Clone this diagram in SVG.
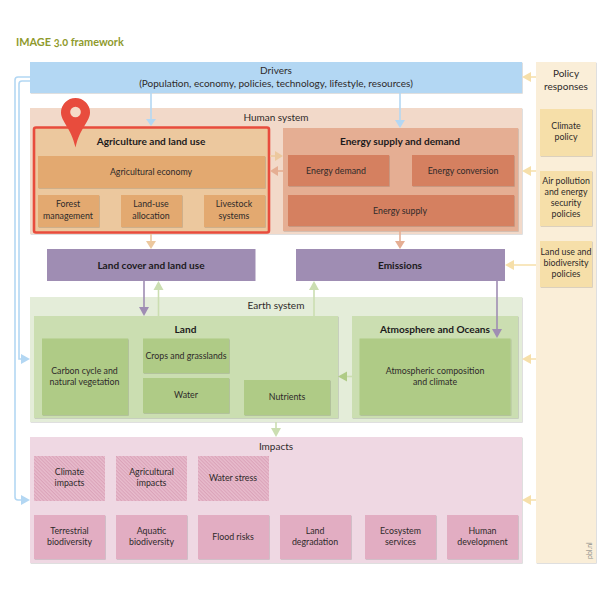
<svg xmlns="http://www.w3.org/2000/svg" width="611" height="599" viewBox="0 0 611 599">
<style>
text{font-family:"Lato","Open Sans","Liberation Sans",sans-serif;font-size:8.8px;fill:#2e2a2a;text-anchor:middle}
.h{font-size:10px}
.b{font-size:10.1px;font-weight:700;fill:#1c1a1c}
.t{font-size:10.9px;font-weight:700;fill:#8f9a2d;text-anchor:start;font-feature-settings:"onum"}
.s{font-size:7px;fill:#8f8f8a}
.d{filter:url(#sh)}
.ln{fill:none;stroke-width:1.6}
.lb{stroke:#b3d7f3}.lo{stroke:#ecc89e}.lr{stroke:#e5ae93}.lp{stroke:#9f8db3}.lg{stroke:#cbdeb1}.ly{stroke:#f6dfa9}
.hb{fill:#b3d7f3}.ho{fill:#ecc89e}.hr{fill:#e5ae93}.hp{fill:#9f8db3}.hg{fill:#cbdeb1}.hy{fill:#f6dfa9}.hag{fill:#afcb86}
</style>
<defs>
<filter id="sh" x="-5%" y="-5%" width="110%" height="110%"><feDropShadow dx="0.7" dy="0.7" stdDeviation="0.3" flood-color="#000" flood-opacity="0.18"/></filter>
<pattern id="hatch" width="2.500" height="2.500" patternUnits="userSpaceOnUse" patternTransform="rotate(45)">
<rect width="2.500" height="2.500" fill="#e8bccd"/><rect width="2.500" height="1.100" fill="#dba3b9"/>
</pattern>
</defs>
<text class="t" x="16" y="46">IMAGE 3.0 framework</text>

<g id="policy-responses"><rect class="d" x="536" y="62" width="60" height="501" fill="#faeed8"/><text class="h" x="566" y="77">Policy</text><text class="h" x="566" y="90">responses</text><text class="s" transform="translate(592,559) rotate(-90)" style="text-anchor:start">pbl.nl</text></g>
<g id="climate-policy"><rect class="d" x="540" y="109" width="52" height="47" fill="#f6dfa9"/><text x="566" y="129">Climate</text><text x="566" y="140">policy</text></g>
<g id="air-pollution-policies"><rect class="d" x="540" y="171" width="52" height="55" fill="#f6dfa9"/><text x="566" y="184">Air pollution</text><text x="566" y="195">and energy</text><text x="566" y="206">security</text><text x="566" y="217">policies</text></g>
<g id="land-use-policies"><rect class="d" x="540" y="241" width="52" height="46" fill="#f6dfa9"/><text x="566" y="255">Land use and</text><text x="566" y="266">biodiversity</text><text x="566" y="277">policies</text></g>

<g id="drivers"><rect class="d" x="30" y="62" width="492" height="31" fill="#b3d7f3"/><text class="h" x="276" y="74">Drivers</text><text class="h" x="276" y="86.500">(Population, economy, policies, technology, lifestyle, resources)</text></g>

<g id="human-system"><rect class="d" x="30" y="108" width="492" height="126" fill="#f2d9c9"/><text class="h" x="276" y="120.500">Human system</text></g>
<g id="energy-supply-demand"><rect class="d" x="283" y="128" width="235" height="103" fill="#e5ae93"/><text class="b" x="400" y="145">Energy supply and demand</text></g>
<g id="energy-demand"><rect class="d" x="288" y="155" width="101" height="31" fill="#d58060"/><text x="336" y="173.500">Energy demand</text></g>
<g id="energy-conversion"><rect class="d" x="412" y="155" width="102" height="31" fill="#d58060"/><text x="463" y="173.500">Energy conversion</text></g>
<g id="energy-supply"><rect class="d" x="288" y="195" width="226" height="31" fill="#d58060"/><text x="400" y="213.500">Energy supply</text></g>

<g id="agriculture-land-use"><rect x="34" y="127.500" width="235" height="105" rx="2" fill="#ecc89e" stroke="#e84c3d" stroke-width="2.600"/><text class="b" x="151" y="145">Agriculture and land use</text></g>
<g id="agricultural-economy"><rect class="d" x="38" y="156" width="227" height="32" fill="#e3a96f"/><text x="151" y="174.500">Agricultural economy</text></g>
<g id="forest-management"><rect class="d" x="38" y="195" width="61" height="32" fill="#e3a96f"/><text x="68" y="207">Forest</text><text x="68" y="218.500">management</text></g>
<g id="land-use-allocation"><rect class="d" x="121" y="195" width="61" height="32" fill="#e3a96f"/><text x="151" y="207">Land-use</text><text x="151" y="218.500">allocation</text></g>
<g id="livestock-systems"><rect class="d" x="204" y="195" width="61" height="32" fill="#e3a96f"/><text x="234" y="207">Livestock</text><text x="234" y="218.500">systems</text></g>
<g id="location-pin"><path d="M75.500 98a14.500 14.500 0 0 1 14.500 14.500c0 9-10 15-14.500 35c-4.500-20-14.500-26-14.500-35a14.500 14.500 0 0 1 14.500-14.500z" fill="#e84c3d"/><circle cx="75.500" cy="112" r="5.300" fill="#f5dcc8"/></g>

<g id="land-cover-land-use"><rect x="47" y="249" width="208.500" height="32" fill="#9f8db3"/><text class="b" x="151" y="268.500">Land cover and land use</text></g>
<g id="emissions"><rect x="296" y="249" width="209" height="32" fill="#9f8db3"/><text class="b" x="400" y="268.500">Emissions</text></g>

<g id="earth-system"><rect class="d" x="30" y="297" width="492" height="125" fill="#e4edd9"/><text class="h" x="276" y="309">Earth system</text></g>
<g id="land"><rect class="d" x="34" y="316" width="304" height="102" fill="#cbdeb1"/><text class="b" x="185.500" y="332.500">Land</text></g>
<g id="carbon-cycle"><rect class="d" x="42" y="338.500" width="86" height="76.500" fill="#afcb86"/><text x="84.500" y="374">Carbon cycle and</text><text x="84.500" y="385">natural vegetation</text></g>
<g id="crops-grasslands"><rect class="d" x="143" y="338.500" width="86" height="34.500" fill="#afcb86"/><text x="186" y="358.500">Crops and grasslands</text></g>
<g id="water"><rect class="d" x="143" y="378" width="86" height="35" fill="#afcb86"/><text x="186" y="397.500">Water</text></g>
<g id="nutrients"><rect class="d" x="244" y="380" width="86" height="35" fill="#afcb86"/><text x="287" y="400">Nutrients</text></g>
<g id="atmosphere-oceans"><rect class="d" x="352" y="316" width="166" height="102" fill="#cbdeb1"/><text class="b" x="435" y="332.500">Atmosphere and Oceans</text></g>
<g id="atmospheric-composition"><rect class="d" x="359.500" y="338.500" width="151" height="76.500" fill="#afcb86"/><text x="435" y="374">Atmospheric composition</text><text x="435" y="385">and climate</text></g>

<g id="impacts"><rect class="d" x="30" y="437" width="492" height="126" fill="#efd8e3"/><text class="h" x="276" y="449.500">Impacts</text></g>
<g id="climate-impacts"><rect x="34" y="456" width="71" height="45" fill="url(#hatch)"/><text x="69.500" y="475">Climate</text><text x="69.500" y="486">impacts</text></g>
<g id="agricultural-impacts"><rect x="116" y="456" width="71" height="45" fill="url(#hatch)"/><text x="151.500" y="475">Agricultural</text><text x="151.500" y="486">impacts</text></g>
<g id="water-stress"><rect x="198" y="456" width="71" height="45" fill="url(#hatch)"/><text x="233" y="481">Water stress</text></g>
<g id="terrestrial-biodiversity"><rect class="d" x="34" y="515" width="71" height="44" fill="#e2adc2"/><text x="69.500" y="534">Terrestrial</text><text x="69.500" y="545">biodiversity</text></g>
<g id="aquatic-biodiversity"><rect class="d" x="116" y="515" width="71" height="44" fill="#e2adc2"/><text x="151.500" y="534">Aquatic</text><text x="151.500" y="545">biodiversity</text></g>
<g id="flood-risks"><rect class="d" x="198" y="515" width="71" height="44" fill="#e2adc2"/><text x="233" y="540">Flood risks</text></g>
<g id="land-degradation"><rect class="d" x="280" y="515" width="71" height="44" fill="#e2adc2"/><text x="315" y="534">Land</text><text x="315" y="545">degradation</text></g>
<g id="ecosystem-services"><rect class="d" x="365" y="515" width="71" height="44" fill="#e2adc2"/><text x="400.500" y="534">Ecosystem</text><text x="400.500" y="545">services</text></g>
<g id="human-development"><rect class="d" x="447" y="515" width="71" height="44" fill="#e2adc2"/><text x="482.500" y="534">Human</text><text x="482.500" y="545">development</text></g>

<g id="connectors">
<path class="ln lb" d="M30 77H18q-3 0-3 3V497q0 3 3 3H23"/>
<path class="ln lb" d="M30 81H22q-3 0-3 3V359H23"/>
<polygon class="hb" points="30,500 21,495 21,505"/><polygon class="hb" points="30,359 21,354 21,364"/>
<path class="ln lb" d="M151 93V120M400 93V121"/>
<polygon class="hb" points="151,126 146,119 156,119"/><polygon class="hb" points="400,128 395,120 405,120"/>
<path class="ln lo" d="M151 234V243"/><polygon class="ho" points="151,249 146,241 156,241"/>
<path class="ln lr" d="M400 231V243"/><polygon class="hr" points="400,249 395,241 405,241"/>
<path class="ln lo" d="M270 156H277"/><polygon class="ho" points="283,156 275,151 275,161"/>
<path class="ln lr" d="M283 171H276"/><polygon class="hr" points="270,171 278,166 278,176"/>
<path class="ln lp" d="M144 281V310"/><polygon class="hp" points="144,316 139,307 149,307"/>
<path class="ln lg" d="M158.500 316V287"/><polygon class="hg" points="158.500,281 153.500,290 163.500,290"/>
<path class="ln lg" d="M314 316V287"/><polygon class="hg" points="314,281 309,290 319,290"/>
<path class="ln lp" d="M497 281V332"/><polygon class="hp" points="497,338 492,329 502,329"/>
<path class="ln lg" d="M359 376.500H344"/><polygon class="hag" points="338,376.500 347,371.500 347,381.500"/>
<path class="ln lg" d="M276 422V431"/><polygon class="hg" points="276,437 271,428 281,428"/>
<path class="ln ly" d="M536 77H528M536 171H528M536 265H511M536 359H528M536 500H528"/>
<polygon class="hy" points="522,77 531,72 531,82"/><polygon class="hy" points="522,171 531,166 531,176"/><polygon class="hy" points="505,265 514,260 514,270"/><polygon class="hy" points="522,359 531,354 531,364"/><polygon class="hy" points="522,500 531,495 531,505"/>
</g>
</svg>
